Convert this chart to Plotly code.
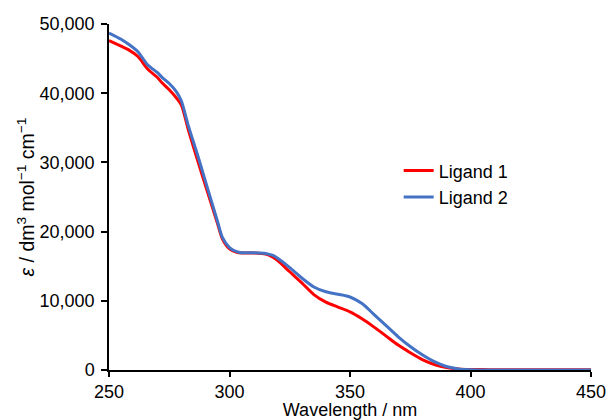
import plotly.graph_objects as go

# Wavelength (nm)
wl = [250, 255, 258, 262, 266, 270, 272, 275, 278, 280, 283, 286.5, 290, 295, 297, 300,
      303, 305, 310, 315, 318, 320, 325, 330, 335, 340, 345, 350, 355, 360, 365, 370,
      375, 380, 385, 390, 395, 400, 405, 410, 420, 430, 440, 450]

# Ligand 1 (red)
lig1 = [47600, 46800, 46300, 45300, 43500, 42300, 41500, 40500, 39300, 38300, 34600, 30600,
        26700, 21200, 19000, 17500, 17000, 16900, 16900, 16750, 16300, 15800, 14200, 12600,
        10900, 9800, 9100, 8400, 7400, 6200, 4900, 3600, 2500, 1500, 800, 350, 150, 80, 60,
        50, 50, 40, 40, 40]

# Ligand 2 (blue)
lig2 = [48700, 47800, 47100, 46000, 44100, 43000, 42300, 41400, 40200, 38900, 35200, 31350,
        27300, 21500, 19200, 17700, 17100, 16950, 16950, 16850, 16550, 16150, 14800, 13300,
        12000, 11300, 10950, 10550, 9600, 8000, 6400, 4800, 3400, 2200, 1200, 500, 150, 30, 0,
        0, 0, 0, 0, 0]

series_names = ["Ligand 1", "Ligand 2"]
colors = ["#FF0000", "#4472C4"]

fig = go.Figure()
for name, ys, c in zip(series_names, [lig1, lig2], colors):
    fig.add_trace(go.Scatter(x=wl, y=ys, mode="lines", name=name,
                             line=dict(color=c, width=3, shape="spline", smoothing=0.8)))

FONT = "Liberation Sans, Arial, sans-serif"
axis_font = dict(family=FONT, size=18, color="black")

fig.update_layout(
    width=609, height=420,
    margin=dict(l=109, r=18, t=24, b=50),
    paper_bgcolor="white", plot_bgcolor="white",
    font=axis_font,
    showlegend=True,
    legend=dict(x=0.601, y=0.629, xanchor="left", yanchor="top",
                font=dict(family=FONT, size=18, color="black"),
                bgcolor="rgba(0,0,0,0)", itemwidth=30),
    xaxis=dict(range=[250, 450], dtick=50, tick0=250, showgrid=False, zeroline=False,
               showline=True, linecolor="black", linewidth=1.5, automargin=False,
               ticks="outside", ticklen=5, tickcolor="black", tickwidth=1.5,
               tickfont=axis_font,
               title=dict(text="Wavelength / nm", font=axis_font, standoff=4)),
    yaxis=dict(range=[0, 50000], dtick=10000, showgrid=False, zeroline=False,
               showline=True, linecolor="black", linewidth=1.5, automargin=False,
               ticks="outside", ticklen=6, tickcolor="black", tickwidth=1.5,
               ticklabelstandoff=3,
               tickformat=",d", tickfont=axis_font,
               title=dict(text="<i>ε</i> / dm<sup>3</sup> mol<sup>−1</sup> cm<sup>−1</sup>",
                          font=dict(family=FONT, size=19.5, color="black"),
                          standoff=0)),
)

fig.write_html("out.html", config={"displayModeBar": False},
               post_script="document.body.style.margin='0';")
